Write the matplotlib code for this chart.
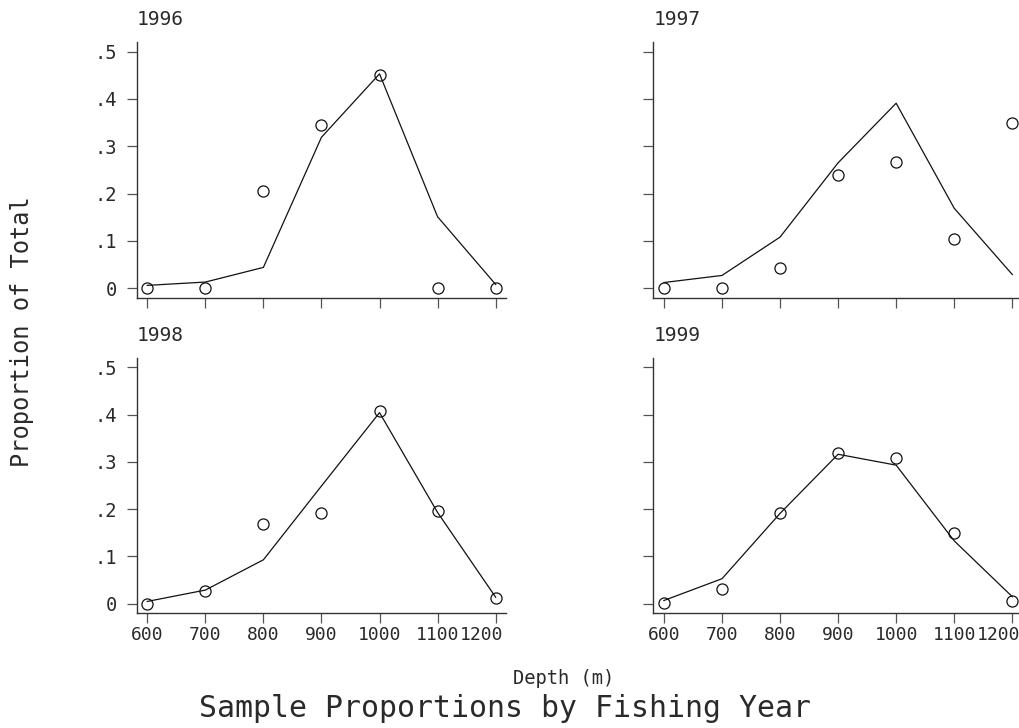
import matplotlib
matplotlib.use("Agg")
import matplotlib.pyplot as plt
import matplotlib.transforms as mtransforms

plt.rcParams['font.family'] = ['DejaVu Sans Mono', 'DejaVu Sans']

# ======================
# DATOS
# ======================
depth = [600, 700, 800, 900, 1000, 1100, 1200]
years = ["1996", "1997", "1998", "1999"]

obs_1996 = [0.0, 0.0, 0.206, 0.345, 0.450, 0.0, 0.0]
fit_1996 = [0.006, 0.013, 0.044, 0.319, 0.453, 0.151, 0.008]

obs_1997 = [0.0, 0.0, 0.042, 0.240, 0.267, 0.105, 0.350]
fit_1997 = [0.012, 0.027, 0.108, 0.265, 0.391, 0.169, 0.029]

obs_1998 = [0.0, 0.027, 0.169, 0.191, 0.407, 0.197, 0.013]
fit_1998 = [0.005, 0.029, 0.093, 0.249, 0.404, 0.193, 0.014]

obs_1999 = [0.002, 0.031, 0.191, 0.319, 0.308, 0.150, 0.005]
fit_1999 = [0.007, 0.053, 0.191, 0.316, 0.293, 0.133, 0.015]

obs_all = [obs_1996, obs_1997, obs_1998, obs_1999]
fit_all = [fit_1996, fit_1997, fit_1998, fit_1999]

y_ticks = [0, 0.1, 0.2, 0.3, 0.4, 0.5]
y_labels = ["0", ".1", ".2", ".3", ".4", ".5"]

# ======================
# FIGURA
# ======================
fig = plt.figure(figsize=(10.19, 7.28), dpi=100)

w, h = 0.3621, 0.351
lefts = [0.1341, 0.6411, 0.1341, 0.6411]
bottoms = [0.5911, 0.5911, 0.1576, 0.1576]

txt_color = "#2a2a2a"
axis_color = "#333333"

for i in range(4):
    ax = fig.add_axes([lefts[i], bottoms[i], w, h])
    ax.plot(depth, fit_all[i], color="#111111", linewidth=0.9)
    ax.plot(depth, obs_all[i], linestyle="none", marker="o", markersize=8,
            markerfacecolor="none", markeredgecolor="#111111", markeredgewidth=0.9)

    ax.set_xlim(581.7, 1217.2)
    ax.set_ylim(-0.02, 0.52)

    for s in ["top", "right"]:
        ax.spines[s].set_visible(False)
    for s in ["left", "bottom"]:
        ax.spines[s].set_color(axis_color)
        ax.spines[s].set_linewidth(1.0)

    ax.set_xticks(depth)
    ax.set_yticks(y_ticks)
    ax.tick_params(direction="out", length=7.5, width=0.9, color="#555555",
                   labelcolor=txt_color, labelsize=13.5)
    ax.tick_params(axis="x", pad=2, labelsize=13)
    ax.tick_params(axis="y", pad=7)

    if i >= 2:
        ax.set_xticklabels([str(d) for d in depth])
        # la última etiqueta se corre a la izquierda, como en el original
        last = ax.get_xticklabels()[-1]
        shift = mtransforms.ScaledTranslation(-14 / 100, 0, fig.dpi_scale_trans)
        last.set_transform(last.get_transform() + shift)
    else:
        ax.set_xticklabels([])
    if i % 2 == 0:
        ax.set_yticklabels(y_labels)
    else:
        ax.set_yticklabels([])

    ax.annotate(years[i], xy=(0, 1), xycoords="axes fraction",
                xytext=(0, 16), textcoords="offset points",
                ha="left", va="center", fontsize=14, color=txt_color)

fig.text(0.0216, 0.545, "Proportion of Total", rotation=90, ha="center",
         va="center", fontsize=17, color=txt_color)
fig.text(0.553, 0.068, "Depth (m)", ha="center", va="center",
         fontsize=13.5, color=txt_color)
fig.text(0.496, 0.027, "Sample Proportions by Fishing Year", ha="center",
         va="center", fontsize=21.5, color=txt_color)

fig.savefig("out.png", dpi=100)
